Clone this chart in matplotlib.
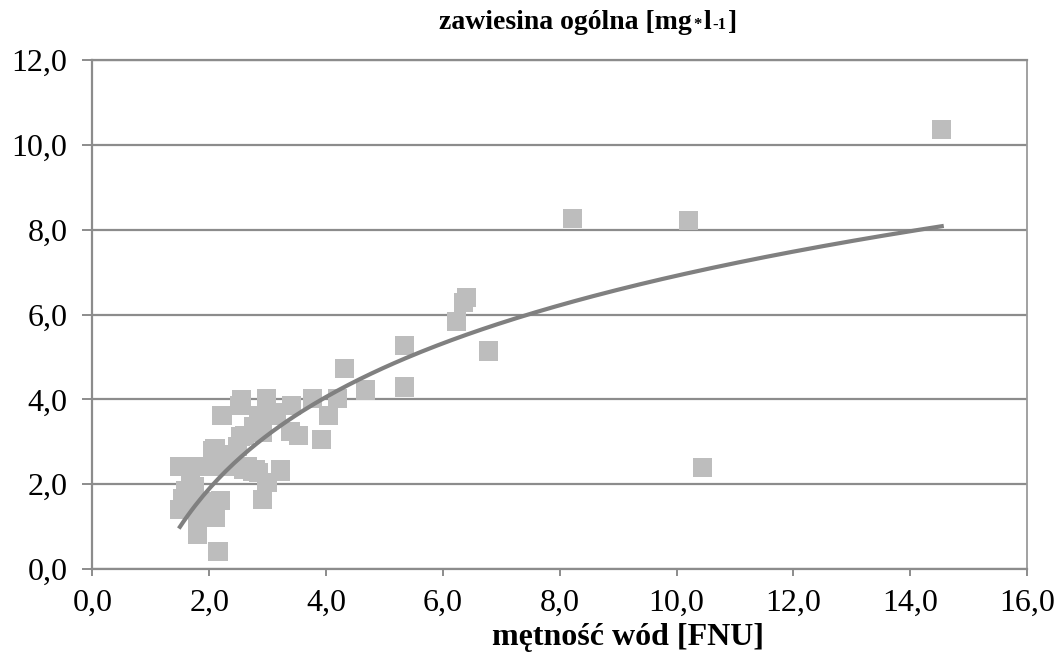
import numpy as np
import matplotlib
matplotlib.use('Agg')
import matplotlib.pyplot as plt
from matplotlib.ticker import FuncFormatter
from matplotlib.offsetbox import TextArea, HPacker, AnchoredOffsetbox

plt.rcParams['font.family'] = ['Liberation Serif', 'DejaVu Serif']

# turbidity [FNU] vs total suspended solids [mg/l]
turbidity = [1.50, 1.65, 1.80, 1.95, 2.10, 2.30, 2.45, 2.65, 2.80,
             1.50, 1.55, 1.60, 1.68, 1.75, 1.65, 1.80, 1.95, 2.10, 2.20, 2.05, 1.90, 1.80, 2.15,
             2.05, 2.10, 2.48, 2.42, 2.22, 2.53, 2.60, 2.55, 2.52, 2.76, 2.85, 2.91, 2.98, 3.10,
             3.15, 2.59, 2.75, 2.85, 3.22, 3.22, 2.99, 2.91,
             3.41, 3.39, 3.53, 3.77, 3.92, 4.04, 4.20, 4.32, 4.68, 5.35, 5.35, 6.23, 6.36, 6.40,
             6.78, 8.22, 10.21, 10.44, 14.54]
suspended = [2.41, 2.41, 2.41, 2.41, 2.41, 2.41, 2.41, 2.41, 2.35,
             1.40, 1.65, 1.85, 2.03, 1.95, 1.45, 1.25, 1.25, 1.22, 1.62, 1.60, 1.60, 0.82, 0.41,
             2.80, 2.83, 2.88, 2.70, 3.62, 3.12, 3.15, 4.00, 3.85, 3.35, 3.62, 3.21, 4.02, 3.70,
             3.62, 2.34, 2.30, 2.28, 2.29, 2.35, 2.03, 1.63,
             3.85, 3.25, 3.14, 4.03, 3.06, 3.61, 4.01, 4.73, 4.22, 5.26, 4.29, 5.84, 6.28, 6.40,
             5.14, 8.27, 8.22, 2.40, 10.36]

# logarithmic trend line y = a*ln(x) + b
TREND_A = 3.12
TREND_B = -0.27

fig = plt.figure(figsize=(10.54, 6.56), dpi=100)
ax = fig.add_axes([0.0876, 0.1326, 0.8868, 0.7759])

ax.set_xlim(0, 16)
ax.set_ylim(0, 12)
ax.set_xticks(np.arange(0, 17, 2))
ax.set_yticks(np.arange(0, 13, 2))
comma = FuncFormatter(lambda v, pos: f'{v:.1f}'.replace('.', ','))
ax.xaxis.set_major_formatter(comma)
ax.yaxis.set_major_formatter(comma)

ax.grid(axis='y', color='#8c8c8c', linewidth=1.6)
ax.set_axisbelow(True)
for side in ['left', 'bottom', 'top']:
    ax.spines[side].set_color('#8c8c8c')
    ax.spines[side].set_linewidth(1.6)
ax.spines['right'].set_color('#9a9a9a')
ax.spines['right'].set_linewidth(1.3)

ax.tick_params(axis='both', colors='#8c8c8c', width=1.4,
               labelsize=23, labelcolor='black', direction='out')
ax.tick_params(axis='x', length=5, pad=9)
ax.tick_params(axis='y', length=7, pad=11)

ax.scatter(turbidity, suspended, marker='s', s=190, color='#bdbdbd',
           edgecolors='none', zorder=3)

xs = np.linspace(min(turbidity), max(turbidity), 200)
ax.plot(xs, TREND_A * np.log(xs) + TREND_B, color='#808080', linewidth=3, zorder=4)

# title with small "*" and "-1" like the original
big = dict(fontsize=20, fontweight='bold', color='black')
small = dict(fontsize=12, fontweight='bold', color='black')
parts = [TextArea('zawiesina ogólna [mg', textprops=big),
         TextArea('*', textprops=small),
         TextArea('l', textprops=big),
         TextArea('-1', textprops=small),
         TextArea(']', textprops=big)]
title_box = HPacker(children=parts, align='baseline', pad=0, sep=1)
anchored = AnchoredOffsetbox(loc='center', child=title_box, frameon=False,
                             bbox_to_anchor=(0.558, 0.966), bbox_transform=fig.transFigure,
                             pad=0, borderpad=0)
fig.add_artist(anchored)

fig.text(0.596, 0.028, 'mętność wód [FNU]', ha='center', va='center',
         fontsize=23, fontweight='bold')

fig.savefig('out.png', dpi=100)
